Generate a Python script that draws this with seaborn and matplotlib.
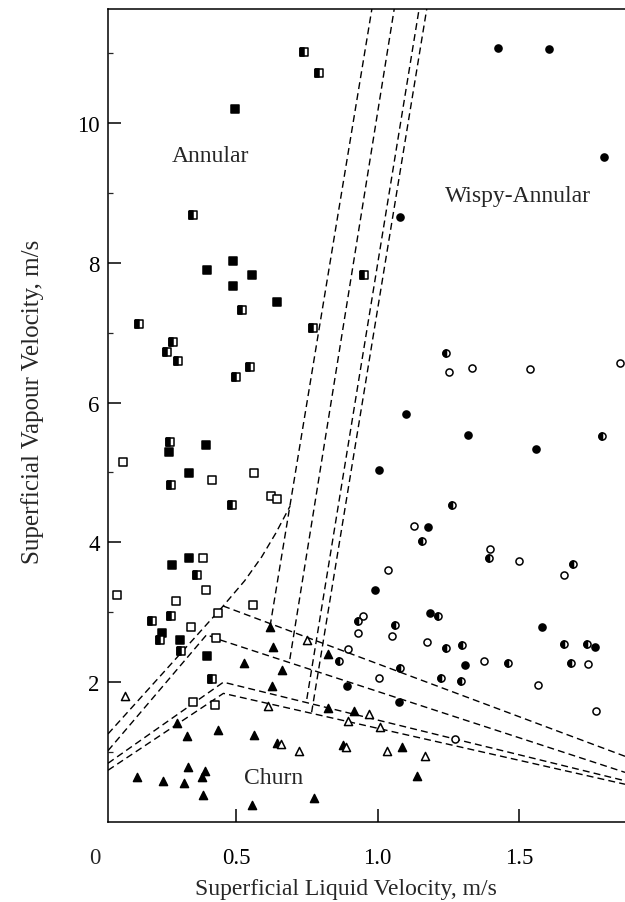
import numpy as np
import pandas as pd
import seaborn as sns
import matplotlib.pyplot as plt
from matplotlib.markers import MarkerStyle
from matplotlib.transforms import ScaledTranslation

# ---- data ----
# annular (squares)
sq_fill_x = [0.496, 0.490, 0.398, 0.555, 0.490, 0.645, 0.393, 0.263, 0.333, 0.335, 0.273, 0.239, 0.303, 0.396]
sq_fill_y = [10.20, 8.03, 7.89, 7.83, 7.67, 7.44, 5.39, 5.29, 4.99, 3.77, 3.68, 2.71, 2.61, 2.37]

sq_half_x = [0.741, 0.792, 0.349, 0.952, 0.520, 0.158, 0.773, 0.276, 0.255, 0.296, 0.550,
             0.501, 0.267, 0.271, 0.487, 0.363, 0.202, 0.270, 0.232, 0.306, 0.416]
sq_half_y = [11.02, 10.72, 8.69, 7.83, 7.33, 7.13, 7.06, 6.87, 6.73, 6.59, 6.51,
             6.37, 5.44, 4.82, 4.54, 3.54, 2.87, 2.95, 2.60, 2.44, 2.04]

sq_open_x = [0.100, 0.562, 0.413, 0.622, 0.646, 0.382, 0.078, 0.393, 0.289, 0.561, 0.437, 0.341, 0.428, 0.348, 0.425]
sq_open_y = [5.15, 4.99, 4.89, 4.67, 4.62, 3.78, 3.25, 3.32, 3.16, 3.11, 2.99, 2.79, 2.63, 1.71, 1.68]

# churn (triangles)
tri_fill_x = [0.620, 0.630, 0.824, 0.528, 0.663, 0.626, 0.825, 0.917, 0.292, 0.436, 0.328, 0.562, 0.330,
              0.389, 0.379, 0.151, 0.241, 0.314, 0.384, 0.557, 0.777, 1.086, 1.139, 0.645, 0.878]
tri_fill_y = [2.79, 2.51, 2.40, 2.27, 2.18, 1.95, 1.63, 1.59, 1.42, 1.32, 1.23, 1.25, 0.78,
              0.73, 0.64, 0.65, 0.59, 0.56, 0.38, 0.24, 0.34, 1.07, 0.66, 1.13, 1.10]

tri_open_x = [0.106, 0.752, 0.614, 0.895, 0.659, 0.721, 0.889, 0.971, 1.009, 1.034, 1.167]
tri_open_y = [1.80, 2.61, 1.66, 1.45, 1.11, 1.02, 1.07, 1.54, 1.36, 1.01, 0.94]

# wispy-annular (circles)
circ_fill_x = [1.427, 1.607, 1.801, 1.078, 1.100, 1.321, 1.561, 1.006, 1.179, 0.992, 1.186, 1.583, 1.768, 1.308, 1.076, 0.891]
circ_fill_y = [11.07, 11.06, 9.52, 8.65, 5.83, 5.53, 5.33, 5.03, 4.22, 3.32, 2.99, 2.79, 2.51, 2.24, 1.71, 1.94]

circ_half_x = [1.242, 1.795, 1.263, 1.157, 1.394, 1.690, 1.215, 0.932, 1.061, 1.242, 1.299, 1.659, 1.742,
               1.080, 1.461, 1.685, 1.226, 1.294, 0.865]
circ_half_y = [6.71, 5.52, 4.53, 4.02, 3.77, 3.69, 2.94, 2.88, 2.82, 2.49, 2.53, 2.55, 2.55,
               2.21, 2.28, 2.27, 2.06, 2.02, 2.30]

circ_open_x = [1.252, 1.335, 1.540, 1.858, 1.129, 1.398, 1.501, 1.036, 1.660, 0.950, 0.932, 1.050, 1.174,
               0.895, 1.376, 1.745, 1.004, 1.567, 1.771, 1.273]
circ_open_y = [6.44, 6.49, 6.48, 6.57, 4.23, 3.90, 3.74, 3.60, 3.53, 2.94, 2.70, 2.66, 2.58,
               2.48, 2.31, 2.26, 2.06, 1.96, 1.59, 1.19]

# transition boundaries (dashed)
curve_x = [0.047, 0.25, 0.45, 0.53, 0.59, 0.64, 0.691]
curve_y = [1.26, 2.17, 3.07, 3.45, 3.79, 4.13, 4.52]
v1_x = [0.454, 1.875]
v1_y = [3.09, 0.94]
v2_x = [0.047, 0.396, 0.432, 1.875]
v2_y = [1.02, 2.68, 2.62, 0.71]
v3_x = [0.047, 0.455, 1.875]
v3_y = [0.84, 2.00, 0.59]
v4_x = [0.047, 0.455, 1.875]
v4_y = [0.74, 1.84, 0.54]
steep_a_x, steep_a_y = [0.620, 0.980], [2.80, 11.63]
steep_b_x, steep_b_y = [0.690, 1.059], [2.33, 11.63]
steep_c_x, steep_c_y = [0.750, 1.147], [1.76, 11.63]
steep_d_x, steep_d_y = [0.767, 1.174], [1.57, 11.63]

xticks = [0.5, 1.0, 1.5]
xtick_labels = ['0.5', '1.0', '1.5']
yticks = [2, 4, 6, 8, 10]
ytick_labels = ['2', '4', '6', '8', '10']

sns.set_style('ticks')
plt.rcParams['font.family'] = ['Liberation Serif', 'DejaVu Serif']

fig = plt.figure(figsize=(6.25, 9.03), dpi=100)
ax = fig.add_axes([108 / 625, 80 / 903, 517 / 625, 813 / 903])

dash = (0, (5, 3))
for lx, ly in [(curve_x, curve_y), (v1_x, v1_y), (v2_x, v2_y), (v3_x, v3_y), (v4_x, v4_y),
               (steep_a_x, steep_a_y), (steep_b_x, steep_b_y), (steep_c_x, steep_c_y), (steep_d_x, steep_d_y)]:
    sns.lineplot(x=lx, y=ly, sort=False, estimator=None, color='black', lw=1.0,
                 linestyle=dash, ax=ax, zorder=1)

ms = 26
ew = 1.1


def pts(x, y, marker, face, size=ms):
    sns.scatterplot(x=x, y=y, marker=marker, s=size, facecolor=face, edgecolor='black',
                    linewidth=ew, ax=ax, zorder=3)


pts(sq_fill_x, sq_fill_y, 's', 'black')
pts(sq_open_x, sq_open_y, 's', 'white')
pts(sq_half_x, sq_half_y, 's', 'white')
pts(sq_half_x, sq_half_y, MarkerStyle('s', fillstyle='left'), 'black')

pts(circ_fill_x, circ_fill_y, 'o', 'black')
pts(circ_open_x, circ_open_y, 'o', 'white')
pts(circ_half_x, circ_half_y, 'o', 'white')
pts(circ_half_x, circ_half_y, MarkerStyle('o', fillstyle='left'), 'black')

pts(tri_fill_x, tri_fill_y, '^', 'black', 34)
pts(tri_open_x, tri_open_y, '^', 'white', 34)

ax.text(0.411, 9.53, 'Annular', fontsize=17, ha='center', va='center')
ax.text(1.497, 8.96, 'Wispy-Annular', fontsize=17, ha='center', va='center')
ax.text(0.634, 0.64, 'Churn', fontsize=17, ha='center', va='center')

ax.set_xlim(0.047, 1.875)
ax.set_ylim(0, 11.63)
ax.set_xticks(xticks)
ax.set_xticklabels(xtick_labels)
ax.set_yticks(yticks)
ax.set_yticklabels(ytick_labels)
ax.set_yticks(np.arange(1, 12, 2), minor=True)
ax.tick_params(axis='both', which='major', direction='in', length=9.5, width=1.1, labelsize=16.5, colors='black')
ax.tick_params(axis='x', which='major', pad=18)
ax.tick_params(axis='y', which='major', pad=6)
ax.tick_params(axis='y', which='minor', direction='in', length=3.5, width=0.9)
ax.spines['right'].set_visible(False)
for s in ['left', 'bottom', 'top']:
    ax.spines[s].set_linewidth(1.1)
    ax.spines[s].set_color('black')

# origin label sits left of the frame corner
ax.text(0, 0, '0', fontsize=16.5, ha='center', va='top', clip_on=False,
        transform=ax.get_xaxis_transform() + ScaledTranslation(0, -18 / 72, fig.dpi_scale_trans))

ax.set_xlabel('Superficial Liquid Velocity, m/s', fontsize=17)
ax.set_ylabel('Superficial Vapour Velocity, m/s', fontsize=18)
ax.xaxis.set_label_coords(0.460, -0.069)
ax.yaxis.set_label_coords(-0.124, 0.518)

fig.savefig('out.png', dpi=100)
